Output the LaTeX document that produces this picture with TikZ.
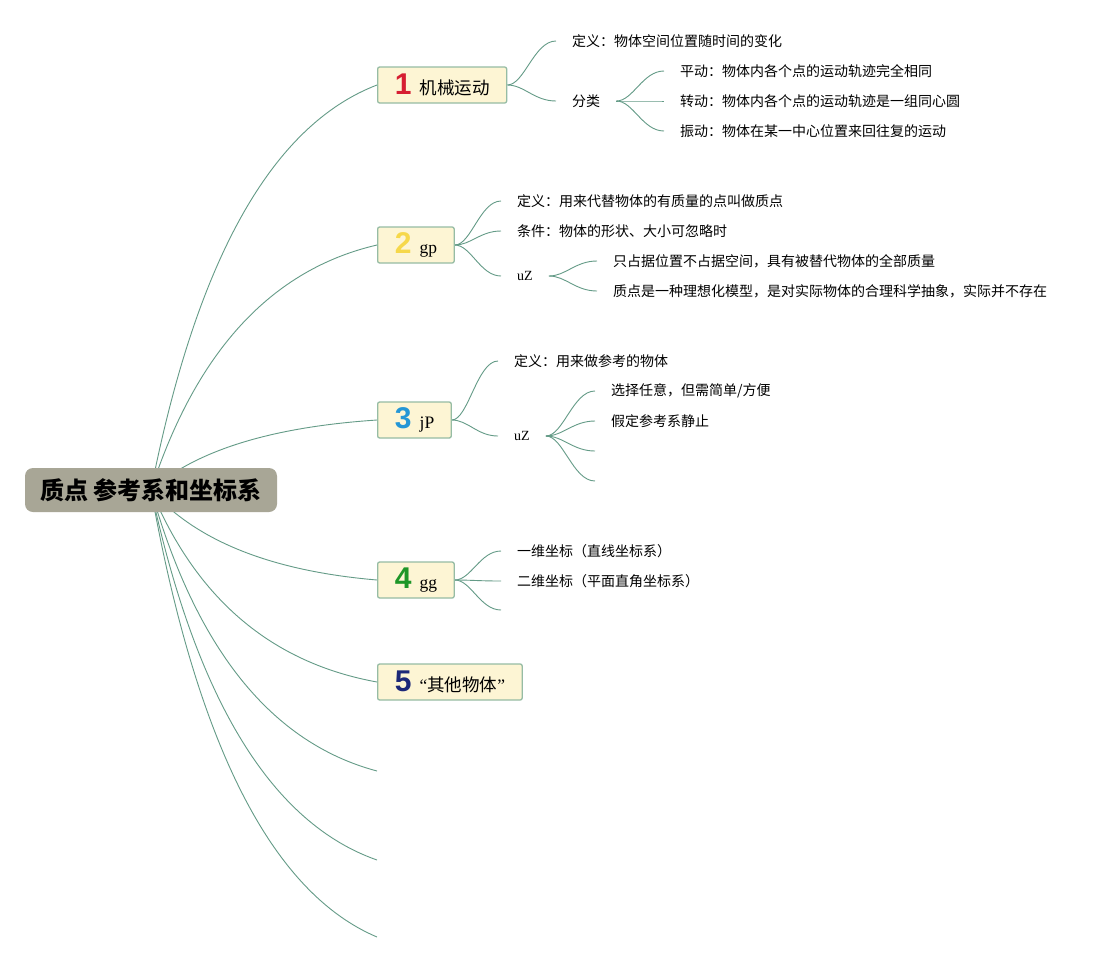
\documentclass[tikz,border=0pt]{standalone}
\usepackage{fontspec}
\usetikzlibrary{calc,backgrounds}
\pgfdeclarelayer{paper}
\pgfsetlayers{paper,background,main}
\newfontfamily\cjk{Noto Sans CJK SC}
\newfontfamily\latf{Liberation Serif}
\newfontfamily\numfont{Liberation Sans}
\definecolor{rootc}{RGB}{168,166,150}
\definecolor{boxc}{RGB}{253,245,212}
\definecolor{bordc}{RGB}{150,188,164}
\definecolor{linec}{RGB}{100,155,135}
\definecolor{dred}{RGB}{214,30,50}
\definecolor{dyel}{RGB}{246,216,74}
\definecolor{dblu}{RGB}{36,150,214}
\definecolor{dgrn}{RGB}{30,150,40}
\definecolor{dnav}{RGB}{28,40,120}
\newcommand\numdig[2]{\makebox[17pt]{\numfont\bfseries\fontsize{30}{30}\selectfont\color{#1}#2}\hspace{8pt}}
\newcommand\mainbr[2]{\draw[conn] let \p1=(#1), \p2=(#2) in (\p1) .. controls ({\x1+0.2*(\x2-\x1)},{\y1+0.567*(\y2-\y1)}) and ({\x1+0.533*(\x2-\x1)},{\y1+0.9*(\y2-\y1)}) .. (\p2);}
\newcommand\subbr[2]{\draw[conn] let \p1=(#1), \p2=(#2) in (\p1) .. controls ({\x1+0.35*(\x2-\x1)},\y1) and ({\x2-0.45*(\x2-\x1)},\y2) .. (\p2);}
\begin{document}
\begin{tikzpicture}[x=1pt,y=-1pt,
  conn/.style={draw=linec, line width=0.9pt},
  rootbox/.style={fill=rootc, rounded corners=8pt, minimum width=252pt, minimum height=44pt, inner sep=0pt, font={\cjk\bfseries\fontsize{24}{28}\selectfont}},
  mainbox/.style={draw=bordc, fill=boxc, line width=1.3pt, rounded corners=2pt, minimum height=36pt, inner xsep=17pt, inner ysep=0pt, anchor=west, font={\cjk\fontsize{17.5}{20}\selectfont}},
  leaf/.style={anchor=west, inner xsep=16pt, inner ysep=2pt, font={\cjk\fontsize{14}{17}\selectfont}}]
\useasboundingbox (0,0) rectangle (1107,962);
\begin{pgfonlayer}{paper}
\fill[white] (0,0) rectangle (1107,962);
\end{pgfonlayer}
% root and main topics
\node[rootbox] (root) at (151,490) {质点 参考系和坐标系};
\node[mainbox] (n1) at (377,85) {\numdig{dred}{1}机械运动};
\node[mainbox] (n2) at (377,245) {\numdig{dyel}{2}{\latf gp}};
\node[mainbox] (n3) at (377,420) {\numdig{dblu}{3}{\latf jP}};
\node[mainbox] (n4) at (377,580) {\numdig{dgrn}{4}{\latf gg}};
\node[mainbox] (n5) at (377,682) {\numdig{dnav}{5}{\latf “}其他物体{\latf ”}};
\coordinate (e6) at (377,771);
\coordinate (e7) at (377,860);
\coordinate (e8) at (377,937);
% topic 1
\node[leaf] (a1) at (556,41) {定义：物体空间位置随时间的变化};
\node[leaf] (a2) at (556,101) {分类};
\node[leaf] (a21) at (664,71) {平动：物体内各个点的运动轨迹完全相同};
\node[leaf] (a22) at (664,101) {转动：物体内各个点的运动轨迹是一组同心圆};
\node[leaf] (a23) at (664,131) {振动：物体在某一中心位置来回往复的运动};
% topic 2
\node[leaf] (b1) at (501,201) {定义：用来代替物体的有质量的点叫做质点};
\node[leaf] (b2) at (501,231) {条件：物体的形状、大小可忽略时};
\node[leaf] (b3) at (501,276) {\latf uZ};
\node[leaf] (b31) at (597,261) {只占据位置不占据空间，具有被替代物体的全部质量};
\node[leaf] (b32) at (597,291) {质点是一种理想化模型，是对实际物体的合理科学抽象，实际并不存在};
% topic 3
\node[leaf] (c1) at (498,361) {定义：用来做参考的物体};
\node[leaf] (c2) at (498,436) {\latf uZ};
\node[leaf] (c31) at (595,391) {选择任意，但需简单/方便};
\node[leaf] (c32) at (595,421) {假定参考系静止};
\coordinate (c33) at (595,451);
\coordinate (c34) at (595,481);
% topic 4
\node[leaf] (d1) at (501,551) {一维坐标（直线坐标系）};
\node[leaf] (d2) at (501,581) {二维坐标（平面直角坐标系）};
\coordinate (d3) at (501,610);
\begin{scope}[on background layer]
\mainbr{root.center}{n1.west}
\mainbr{root.center}{n2.west}
\mainbr{root.center}{n3.west}
\mainbr{root.center}{n4.west}
\mainbr{root.center}{n5.west}
\mainbr{root.center}{e6}
\mainbr{root.center}{e7}
\mainbr{root.center}{e8}
\subbr{n1.east}{a1.west}
\subbr{n1.east}{a2.west}
\subbr{a2.east}{a21.west}
\subbr{a2.east}{a22.west}
\subbr{a2.east}{a23.west}
\subbr{n2.east}{b1.west}
\subbr{n2.east}{b2.west}
\subbr{n2.east}{b3.west}
\subbr{b3.east}{b31.west}
\subbr{b3.east}{b32.west}
\subbr{n3.east}{c1.west}
\subbr{n3.east}{c2.west}
\subbr{c2.east}{c31.west}
\subbr{c2.east}{c32.west}
\subbr{c2.east}{c33}
\subbr{c2.east}{c34}
\subbr{n4.east}{d1.west}
\subbr{n4.east}{d2.west}
\subbr{n4.east}{d3}
\end{scope}
\end{tikzpicture}
\end{document}
